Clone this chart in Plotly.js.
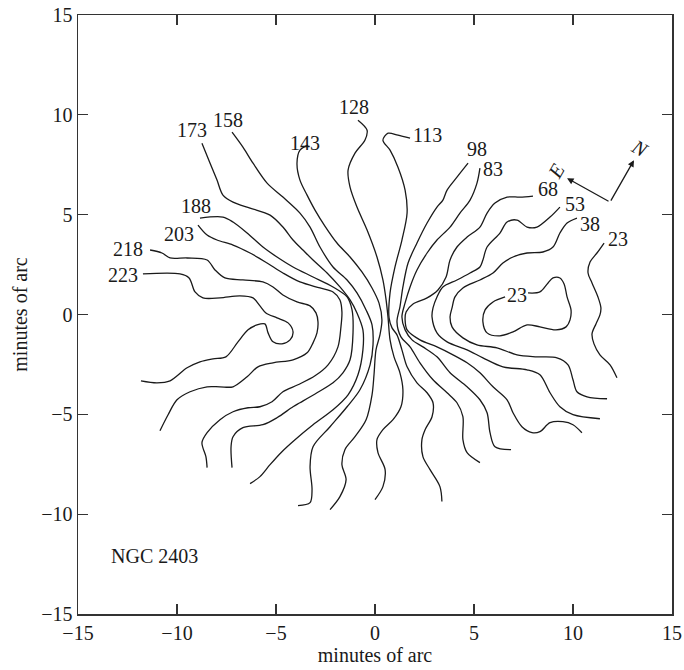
<!DOCTYPE html>
<html><head><meta charset="utf-8">
<script src="https://cdn.plot.ly/plotly-3.0.1.min.js"></script>
<style>html,body{margin:0;padding:0;background:#fff}#chart{width:684px;height:670px}</style>
</head><body><div id="chart"></div>
<script>
// Iso-velocity contours of NGC 2403 (km/s), positions in minutes of arc
const c223x = [-11.72,-9.85,-9.39,-9.09,-8.69,-7.83,-6.82,-6.16,-5.81,-5.51,-4.95,-4.39,-4.14,-4.29,-4.70,-5.15,-5.40,-5.56,-5.96,-6.41,-6.92,-7.53,-8.18,-8.84,-9.49,-10.35,-11.01,-11.82];
const c223y = [2.03,2.03,1.83,1.13,0.83,0.83,0.93,0.83,0.43,0.08,-0.17,-0.42,-0.87,-1.27,-1.47,-1.37,-0.92,-0.47,-0.52,-0.77,-1.37,-2.12,-2.22,-2.37,-2.67,-3.32,-3.42,-3.32];
const c218x = [-11.36,-10.76,-10.35,-9.49,-8.48,-8.08,-7.58,-6.67,-5.66,-5.15,-4.65,-3.94,-3.28,-2.98,-2.88,-2.93,-3.13,-3.43,-4.14,-5.15,-5.91,-6.46,-7.17,-7.83,-8.48,-9.34,-10.0,-10.45,-10.86];
const c218y = [3.23,3.08,2.83,2.83,2.73,2.23,1.83,1.73,1.63,1.38,0.98,0.63,0.43,0.08,-0.37,-0.92,-1.42,-1.92,-2.27,-2.42,-2.62,-3.12,-3.62,-3.62,-3.62,-3.87,-4.27,-5.02,-5.82];
const c203x = [-8.94,-8.48,-7.98,-7.17,-6.31,-5.45,-4.65,-3.79,-2.78,-2.12,-1.77,-1.67,-1.72,-1.87,-2.37,-3.03,-3.89,-4.65,-5.20,-5.81,-6.41,-7.17,-7.83,-8.48,-8.74,-8.54,-8.48];
const c203y = [4.48,3.98,3.73,3.48,3.08,2.58,2.08,1.63,1.33,1.13,0.73,0.13,-0.62,-1.62,-2.52,-3.07,-3.52,-3.87,-4.37,-4.62,-4.67,-4.87,-5.27,-5.92,-6.42,-7.12,-7.67];
const c188x = [-8.84,-7.68,-7.17,-6.46,-5.66,-4.95,-4.14,-3.13,-2.12,-1.41,-1.16,-1.11,-1.26,-1.62,-2.12,-2.93,-3.79,-4.14,-4.95,-5.66,-6.67,-7.17,-7.27,-7.22];
const c188y = [4.83,4.88,4.63,4.08,3.38,2.88,2.38,1.88,1.38,0.88,0.23,-0.92,-2.27,-2.92,-3.42,-3.92,-4.42,-4.62,-5.17,-5.52,-5.67,-6.12,-6.62,-7.67];
const c173x = [-8.74,-8.33,-7.98,-7.68,-7.17,-6.31,-5.30,-4.65,-4.14,-3.64,-3.13,-2.42,-1.77,-1.26,-0.91,-0.61,-0.61,-0.86,-1.36,-2.12,-3.13,-4.04,-4.70,-5.30,-5.81,-6.31];
const c173y = [8.58,7.58,6.73,5.98,5.63,5.33,4.98,4.38,3.73,3.23,2.73,2.08,1.38,0.73,0.08,-0.77,-1.77,-3.02,-4.02,-4.77,-5.52,-6.27,-6.87,-7.52,-8.12,-8.47];
const c158x = [-7.22,-6.67,-6.16,-5.45,-4.65,-3.79,-3.28,-2.78,-2.12,-1.41,-0.91,-0.45,-0.15,-0.10,-0.25,-0.76,-1.41,-2.27,-3.13,-3.28,-3.18,-3.28,-3.89];
const c158y = [9.13,8.38,7.58,6.58,5.88,5.08,4.38,3.38,2.38,1.73,1.08,0.23,-0.52,-1.52,-2.52,-3.77,-4.62,-5.62,-6.62,-7.62,-8.77,-9.42,-9.57];
const c143x = [-3.38,-3.79,-3.94,-3.79,-3.43,-3.03,-2.53,-1.92,-1.26,-0.66,-0.15,0.20,0.35,0.25,0.05,-0.05,-0.15,-0.45,-1.01,-1.52,-1.67,-1.46,-1.77,-2.27];
const c143y = [8.48,8.23,7.58,6.73,5.98,5.23,4.43,3.58,2.88,2.13,1.33,0.58,-0.27,-1.02,-1.77,-3.02,-4.02,-5.27,-6.12,-6.77,-7.52,-8.27,-9.12,-9.77];
const c128x = [-0.86,-0.40,-0.51,-1.01,-1.36,-1.26,-0.91,-0.40,0.10,0.40,0.56,0.66,0.76,0.96,1.26,1.41,1.31,0.91,0.40,0.10,0.15,0.51,0.40,0.0];
const c128y = [9.73,9.23,8.73,8.08,7.23,6.38,5.38,4.23,2.88,1.73,0.73,-0.17,-1.27,-2.12,-2.92,-3.77,-4.62,-5.27,-5.77,-6.27,-6.92,-7.77,-8.62,-9.27];
const c113x = [1.77,1.16,0.66,0.40,0.76,1.16,1.52,1.62,1.36,1.01,0.76,0.71,0.86,1.11,1.36,1.62,2.12,2.63,2.93,2.88,2.53,2.37,2.42,2.78,3.28,3.38];
const c113y = [8.83,8.98,9.08,8.73,8.23,7.38,6.23,5.08,3.73,2.38,1.08,-0.17,-0.67,-1.02,-1.77,-2.62,-3.42,-3.92,-4.42,-5.12,-5.77,-6.27,-7.12,-7.77,-8.62,-9.37];
const c98x = [4.70,4.14,3.64,3.43,3.13,2.63,2.12,1.67,1.41,1.26,1.11,1.31,1.77,2.27,2.93,3.64,4.14,4.44,4.44,4.65,5.30];
const c98y = [7.58,6.88,6.23,5.73,5.38,4.58,3.58,2.58,1.38,0.38,-0.37,-1.12,-1.62,-2.42,-3.27,-3.92,-4.42,-5.12,-6.27,-6.92,-7.42];
const c83x = [5.30,5.15,4.80,4.29,3.79,3.13,2.63,2.12,1.77,1.52,1.36,1.52,1.87,2.42,3.13,3.79,4.65,5.30,5.66,5.81,6.06,6.87];
const c83y = [7.33,6.58,5.73,5.08,4.38,3.73,3.08,2.23,1.38,0.58,-0.12,-0.77,-1.27,-1.62,-2.12,-2.92,-3.62,-4.27,-4.92,-5.92,-6.62,-6.77];
const c68x = [7.98,7.32,6.67,6.06,5.66,5.30,4.65,4.14,3.79,3.59,3.18,2.63,1.92,1.57,1.52,1.62,2.27,3.13,3.94,4.65,5.30,5.96,6.67,6.97,7.42,7.93,8.33,8.84,9.49,10.0,10.45];
const c68y = [5.93,5.88,5.88,5.58,5.08,4.38,3.88,3.38,2.73,1.88,1.23,0.83,0.53,0.13,-0.27,-0.77,-1.27,-1.62,-2.02,-2.42,-2.92,-3.62,-4.27,-4.92,-5.62,-5.92,-5.87,-5.42,-5.37,-5.52,-5.92];
const c53x = [9.34,8.84,8.18,7.68,7.17,6.67,6.31,5.66,5.45,5.30,4.80,4.14,3.43,3.13,2.93,2.88,3.13,3.64,4.65,5.45,6.46,7.68,8.33,8.84,9.34,10.0,11.36];
const c53y = [5.38,4.88,4.38,4.38,4.73,4.63,4.08,3.38,2.73,2.38,2.08,1.73,1.38,0.88,0.33,-0.12,-0.92,-1.37,-1.77,-2.17,-2.62,-2.77,-3.02,-3.92,-4.62,-5.02,-5.22];
const c38x = [10.20,9.70,9.34,8.99,8.48,7.68,6.97,6.46,5.96,5.30,4.44,4.04,3.89,3.79,3.89,4.44,5.15,6.16,7.17,8.18,9.19,9.75,10.0,10.20,10.71,11.72];
const c38y = [4.83,4.58,4.08,3.38,3.13,3.08,2.88,2.58,2.08,1.73,1.33,0.88,0.33,-0.12,-0.62,-1.17,-1.52,-1.67,-2.02,-2.12,-2.17,-2.52,-3.27,-3.87,-4.12,-4.22];
const c23ox = [11.57,11.21,10.86,10.76,10.96,11.26,11.41,11.36,11.16,10.96,11.06,11.36,11.87,12.22];
const c23oy = [3.58,3.08,2.63,2.08,1.58,0.88,0.33,-0.02,-0.47,-0.97,-1.47,-2.02,-2.52,-3.17];
const c23ix = [7.73,8.33,8.74,8.99,9.34,9.55,9.70,9.90,9.85,9.65,9.14,8.33,7.68,6.97,6.31,5.66,5.45,5.56,5.96,6.57];
const c23iy = [1.08,1.13,1.58,1.83,1.83,1.53,0.88,0.23,-0.27,-0.62,-0.77,-0.62,-0.52,-0.87,-1.07,-0.92,-0.37,0.23,0.63,0.88];

// Contour labels
const labelText = ['223','218','203','188','173','158','143','128','113','98','83','68','53','38','23','23'];
const labelX = [-12.73,-12.47,-9.90,-9.04,-9.24,-7.42,-3.54,-1.06,2.63,5.15,5.96,8.74,10.10,10.86,12.27,7.17];
const labelY = [1.98,3.28,4.03,5.43,9.23,9.73,8.58,10.37,8.98,8.28,7.28,6.28,5.53,4.53,3.78,0.98];

const tickVals = [-15,-10,-5,0,5,10,15];

const contours = [
  [c223x,c223y],[c218x,c218y],[c203x,c203y],[c188x,c188y],[c173x,c173y],[c158x,c158y],
  [c143x,c143y],[c128x,c128y],[c113x,c113y],[c98x,c98y],[c83x,c83y],[c68x,c68y],
  [c53x,c53y],[c38x,c38y],[c23ox,c23oy],[c23ix,c23iy]
];

const FONT = 'Liberation Serif, Times New Roman, serif';
const traces = contours.map(c => ({
  x: c[0], y: c[1], type: 'scatter', mode: 'lines',
  line: {color: '#1a1a1a', width: 1.3, shape: 'spline', smoothing: 0.9},
  hoverinfo: 'skip', showlegend: false
}));

const annotations = labelText.map((t, i) => ({
  x: labelX[i], y: labelY[i], xref: 'x', yref: 'y', text: t, showarrow: false,
  font: {family: FONT, size: 20, color: '#1a1a1a'}, xanchor: 'center', yanchor: 'middle'
}));
annotations.push({x: -13.45, y: -12.07, xref: 'x', yref: 'y', text: 'NGC 2403', showarrow: false,
  font: {family: FONT, size: 20, color: '#1a1a1a'}, xanchor: 'left', yanchor: 'middle'});
// compass
const compassVertex = [11.87, 5.63];
annotations.push({x: 9.70, y: 6.83, ax: compassVertex[0], ay: compassVertex[1], axref: 'x', ayref: 'y', xref: 'x', yref: 'y',
  text: '', showarrow: true, arrowhead: 2, arrowsize: 1, arrowwidth: 1.3, arrowcolor: '#1a1a1a', standoff: 0});
annotations.push({x: 13.08, y: 7.73, ax: compassVertex[0], ay: compassVertex[1], axref: 'x', ayref: 'y', xref: 'x', yref: 'y',
  text: '', showarrow: true, arrowhead: 2, arrowsize: 1, arrowwidth: 1.3, arrowcolor: '#1a1a1a', standoff: 0});
annotations.push({x: 9.14, y: 7.2, xref: 'x', yref: 'y', text: '<i>E</i>', showarrow: false, textangle: -60,
  font: {family: FONT, size: 20, color: '#1a1a1a'}});
annotations.push({x: 13.38, y: 8.32, xref: 'x', yref: 'y', text: '<i>N</i>', showarrow: false, textangle: 30,
  font: {family: FONT, size: 20, color: '#1a1a1a'}});

const axisCommon = {
  range: [-15, 15], tickvals: tickVals, ticks: 'inside', ticklen: 10, tickwidth: 1.3, tickcolor: '#333',
  showline: true, linecolor: '#333', linewidth: 1.5, mirror: 'ticks', showgrid: false, zeroline: false,
  tickfont: {family: FONT, size: 20, color: '#1a1a1a'}, fixedrange: true
};

const layout = {
  width: 684, height: 670,
  margin: {l: 78, r: 12, t: 15, b: 56},
  paper_bgcolor: '#fff', plot_bgcolor: '#fff',
  xaxis: Object.assign({}, axisCommon, {title: {text: 'minutes of arc', font: {family: FONT, size: 20, color: '#1a1a1a'}, standoff: 4}}),
  yaxis: Object.assign({}, axisCommon, {title: {text: 'minutes of arc', font: {family: FONT, size: 20, color: '#1a1a1a'}, standoff: 8}}),
  annotations: annotations,
  showlegend: false
};

Plotly.newPlot('chart', traces, layout, {staticPlot: true, displayModeBar: false});
</script></body></html>
